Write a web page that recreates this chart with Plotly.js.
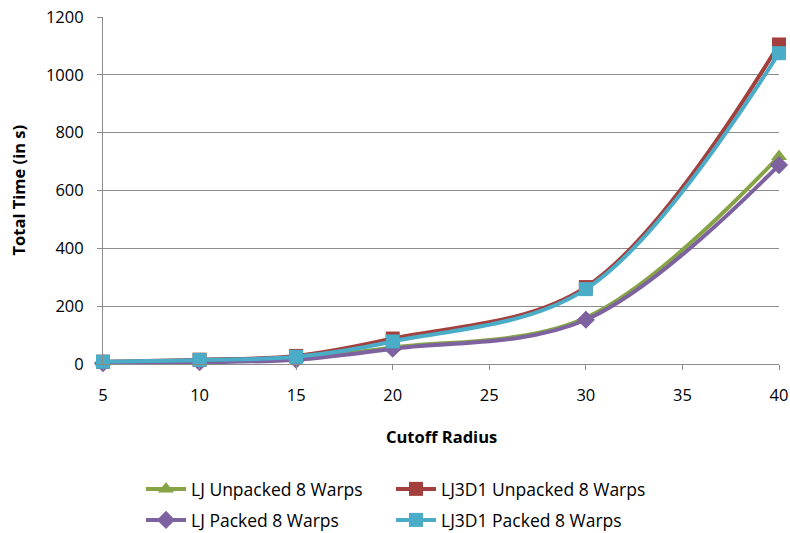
<!DOCTYPE html>
<html>
<head>
<meta charset="utf-8">
<script src="https://cdn.plot.ly/plotly-3.0.1.min.js"></script>
<style>
  html, body { margin: 0; padding: 0; background: #fff; }
  #chart { width: 790px; height: 533px; }
</style>
</head>
<body>
<div id="chart"></div>
<script>
// Cutoff radius values and total run times (seconds) per kernel variant
const cutoffRadius = [5, 10, 15, 20, 30, 40];
const ljUnpacked = [5, 8, 20, 57, 160, 718];
const lj3d1Unpacked = [8, 15, 28, 88, 266, 1105];
const ljPacked = [3, 6, 15, 53, 153, 688];
const lj3d1Packed = [8, 14, 25, 78, 259, 1075];

const seriesNames = [
  'LJ Unpacked 8 Warps',
  'LJ3D1 Unpacked 8 Warps',
  'LJ Packed 8 Warps',
  'LJ3D1 Packed 8 Warps'
];
const xTicks = [5, 10, 15, 20, 25, 30, 35, 40];
const yTicks = [0, 200, 400, 600, 800, 1000, 1200];
const xTitle = 'Cutoff Radius';
const yTitle = 'Total Time (in s)';

function series(name, y, color, symbol, size, legendId) {
  return {
    x: cutoffRadius, y: y, name: name,
    type: 'scatter', mode: 'lines+markers',
    cliponaxis: false,
    legend: legendId,
    line: { color: color, width: 4, shape: 'spline', smoothing: 1 },
    marker: { color: color, symbol: symbol, size: size }
  };
}

const traces = [
  series(seriesNames[0], ljUnpacked, '#86A446', 'triangle-up', 14, 'legend'),
  series(seriesNames[1], lj3d1Unpacked, '#A33F3C', 'square', 14, 'legend2'),
  series(seriesNames[2], ljPacked, '#7E62A0', 'diamond', 14, 'legend3'),
  series(seriesNames[3], lj3d1Packed, '#4AACC6', 'square', 14, 'legend4')
];

const fam = '"Open Sans", "Liberation Sans", Arial, sans-serif';
const tickFont = { family: fam, size: 16.5, color: '#000' };
const titleFont = { family: fam, size: 16.5, color: '#000' };
const legendFont = { family: fam, size: 17.5, color: '#000' };

// one legend box per entry, laid out as a 2 x 2 grid under the axes
function legendAt(xPx, yPx) {
  return {
    xref: 'container', yref: 'container',
    x: xPx / 790, xanchor: 'left',
    y: 1 - yPx / 533, yanchor: 'middle',
    itemwidth: 40,
    bgcolor: 'rgba(0,0,0,0)',
    font: legendFont
  };
}

const layout = {
  width: 790, height: 533,
  margin: { l: 103, r: 11, t: 17, b: 169, autoexpand: false },
  paper_bgcolor: '#fff', plot_bgcolor: '#fff',
  font: tickFont,
  showlegend: true,
  xaxis: {
    range: [5, 40],
    automargin: false,
    tickvals: xTicks, ticktext: xTicks.map(String),
    showgrid: false, zeroline: false,
    showline: true, linecolor: '#8c8c8c', linewidth: 1,
    ticks: 'outside', ticklen: 5, tickcolor: '#8c8c8c',
    ticklabelstandoff: 11,
    tickfont: tickFont
  },
  yaxis: {
    range: [0, 1200],
    automargin: false,
    tickvals: yTicks, ticktext: yTicks.map(String),
    showgrid: true, gridcolor: '#8c8c8c', gridwidth: 1,
    zeroline: false,
    showline: true, linecolor: '#8c8c8c', linewidth: 1,
    ticks: 'outside', ticklen: 5, tickcolor: '#8c8c8c',
    ticklabelstandoff: 10,
    tickfont: tickFont
  },
  // axis titles placed as paper-anchored labels
  annotations: [
    {
      text: '<b>' + xTitle + '</b>', font: titleFont, showarrow: false,
      xref: 'paper', yref: 'paper', x: 0.5, y: -72 / 347,
      xanchor: 'center', yanchor: 'middle'
    },
    {
      text: '<b>' + yTitle + '</b>', font: titleFont, showarrow: false,
      textangle: -90,
      xref: 'paper', yref: 'paper', x: -85 / 676, y: 0.5,
      xanchor: 'center', yanchor: 'middle'
    }
  ],
  legend: legendAt(141, 489),
  legend2: legendAt(391, 489),
  legend3: legendAt(141, 520),
  legend4: legendAt(391, 520)
};

Plotly.newPlot('chart', traces, layout, { displayModeBar: false, staticPlot: true });
</script>
</body>
</html>
